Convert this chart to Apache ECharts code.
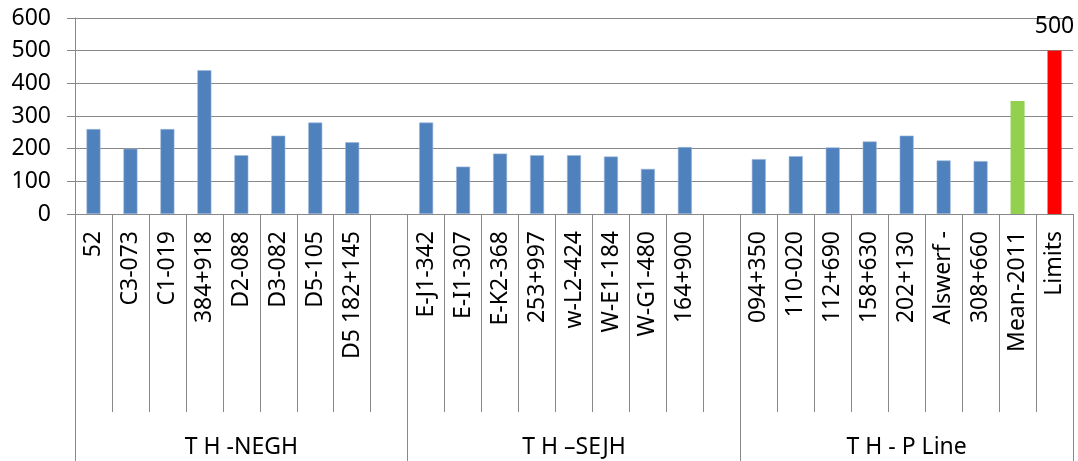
<!DOCTYPE html>
<html>
<head>
<meta charset="utf-8">
<script src="https://cdn.jsdelivr.net/npm/echarts@6/dist/echarts.min.js"></script>
<style>
  html, body { margin: 0; padding: 0; background: #fff; }
  #chart { width: 1078px; height: 461px; }
</style>
</head>
<body>
<div id="chart"></div>
<script>
// Station groups (second-level axis labels)
const groupNames = ['T H -NEGH', 'T H \u2013SEJH', 'T H - P Line'];

// T H -NEGH stations
const neghStations = ['52', 'C3-073', 'C1-019', '384+918', 'D2-088', 'D3-082', 'D5-105', 'D5 182+145'];
const neghValues = [260, 200, 260, 440, 180, 240, 280, 220];

// T H –SEJH stations
const sejhStations = ['E-J1-342', 'E-I1-307', 'E-K2-368', '253+997', 'w-L2-424', 'W-E1-184', 'W-G1-480', '164+900'];
const sejhValues = [280, 145, 185, 180, 180, 176, 138, 205];

// T H - P Line stations
const pLineStations = ['094+350', '110-020', '112+690', '158+630', '202+130', 'Alswerf \u2010', '308+660'];
const pLineValues = [168, 177, 204, 222, 240, 164, 162];

// Reference bars
const meanLabel = 'Mean-2011';
const meanValue = 346;
const limitLabel = 'Limits';
const limitValue = 500;

// Value axis ticks
const yTicks = [0, 100, 200, 300, 400, 500, 600];

const BLUE = '#4F81BD';
const GREEN = '#92D050';
const RED = '#FF0000';
const GREY = '#888888';
const FONT = 'Noto Sans';

// Flat category list, one empty slot closing the first two groups
const categories = [].concat(neghStations, [''], sejhStations, [''], pLineStations, [meanLabel, limitLabel]);

const barData = [].concat(
  neghValues.map(v => ({ value: v })),
  [{ value: null }],
  sejhValues.map(v => ({ value: v })),
  [{ value: null }],
  pLineValues.map(v => ({ value: v })),
  [
    { value: meanValue, itemStyle: { color: GREEN, borderWidth: 0 } },
    {
      value: limitValue,
      itemStyle: { color: RED, borderWidth: 0 },
      label: {
        show: true, position: 'top', distance: 13,
        color: '#000', fontSize: 23, fontFamily: FONT
      }
    }
  ]
);

const chart = echarts.init(document.getElementById('chart'), null, { renderer: 'canvas' });

chart.setOption({
  animation: false,
  backgroundColor: '#fff',
  grid: { left: 75, right: 5, top: 18, bottom: 247, containLabel: false },
  xAxis: [
    {
      type: 'category',
      data: categories,
      boundaryGap: true,
      axisLine: { show: true, lineStyle: { color: GREY, width: 1 } },
      axisTick: { show: true, length: 198, interval: 0, lineStyle: { color: GREY, width: 1 } },
      axisLabel: {
        interval: 0, rotate: 90, margin: 17,
        color: '#000', fontSize: 23, fontFamily: FONT
      },
      splitLine: { show: false }
    },
    {
      type: 'category',
      data: groupNames,
      position: 'bottom',
      boundaryGap: true,
      axisLine: { show: false },
      axisTick: { show: true, length: 250, interval: 0, lineStyle: { color: GREY, width: 1 } },
      axisLabel: {
        interval: 0, margin: 222, lineHeight: 23,
        color: '#000', fontSize: 23, fontFamily: FONT
      },
      splitLine: { show: false }
    }
  ],
  yAxis: {
    type: 'value',
    min: yTicks[0],
    max: yTicks[yTicks.length - 1],
    interval: yTicks[1] - yTicks[0],
    axisLine: { show: true, lineStyle: { color: GREY, width: 1 } },
    axisTick: { show: true, length: 8, lineStyle: { color: GREY, width: 1 } },
    axisLabel: { margin: 24, color: '#000', fontSize: 23, fontFamily: FONT },
    splitLine: { show: true, lineStyle: { color: GREY, width: 1 } }
  },
  series: [
    {
      type: 'bar',
      xAxisIndex: 0,
      data: barData,
      barWidth: 14,
      itemStyle: { color: BLUE, borderColor: '#9DB7DA', borderWidth: 0.6 }
    }
  ]
});
</script>
</body>
</html>
